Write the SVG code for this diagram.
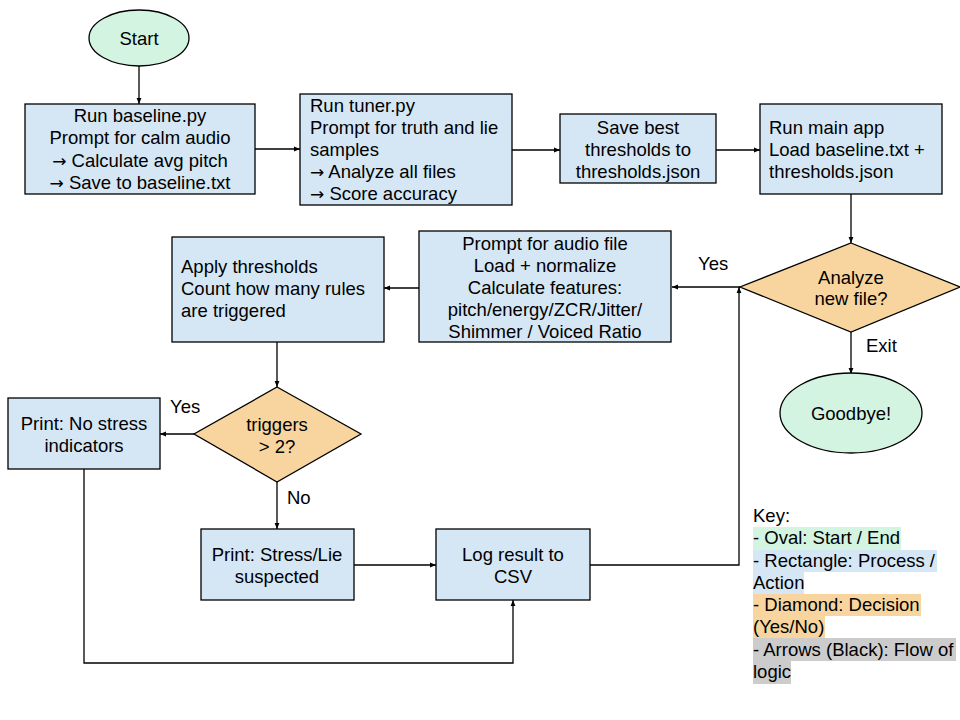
<svg xmlns="http://www.w3.org/2000/svg" width="960" height="720" viewBox="0 0 960 720">
<style>
text{font-family:"Liberation Sans",Arial,sans-serif;font-size:18.5px;fill:#000}
.c{text-anchor:middle}
.ar{font-family:"DejaVu Sans",sans-serif;font-size:17px}
.box{fill:#d5e7f5;stroke:#000;stroke-width:1.3}
.ov{fill:#d4f4e2;stroke:#000;stroke-width:1.3}
.dia{fill:#f8d59e;stroke:#000;stroke-width:1.3}
.ln{fill:none;stroke:#000;stroke-width:1.3}
</style>
<defs>
<marker id="ah" viewBox="0 0 10 10" refX="10" refY="5" markerWidth="6" markerHeight="6" markerUnits="userSpaceOnUse" orient="auto">
<path d="M0,1 L10,5 L0,9 z" fill="#000"/>
</marker>
</defs>
<rect width="960" height="720" fill="#fff"/>
<g id="connectors">
<path class="ln" d="M139,66 V104" marker-end="url(#ah)"/>
<path class="ln" d="M255,149 H300" marker-end="url(#ah)"/>
<path class="ln" d="M512,150 H560" marker-end="url(#ah)"/>
<path class="ln" d="M716,150 H760" marker-end="url(#ah)"/>
<path class="ln" d="M851,194 V243" marker-end="url(#ah)"/>
<path class="ln" d="M851,332 V374" marker-end="url(#ah)"/>
<path class="ln" d="M740,287 H672" marker-end="url(#ah)"/>
<path class="ln" d="M419,288 H384" marker-end="url(#ah)"/>
<path class="ln" d="M277,342 V387" marker-end="url(#ah)"/>
<path class="ln" d="M194,434 H160" marker-end="url(#ah)"/>
<path class="ln" d="M277,482 V529" marker-end="url(#ah)"/>
<path class="ln" d="M354,565 H436" marker-end="url(#ah)"/>
<path class="ln" d="M84,469 V663 H513 V600" marker-end="url(#ah)"/>
<path class="ln" d="M590,565 H739 V287" marker-end="url(#ah)"/>
<text x="698" y="270">Yes</text>
<text x="866" y="352">Exit</text>
<text x="170" y="413">Yes</text>
<text x="287" y="504">No</text>
</g>
<g id="start"><ellipse class="ov" cx="139" cy="38" rx="50" ry="28"/><text class="c" x="139" y="45">Start</text></g>
<g id="baseline"><rect class="box" x="25" y="104" width="230" height="90"/>
<text class="c" x="140" y="122">Run baseline.py</text>
<text class="c" x="140" y="144">Prompt for calm audio</text>
<text class="c" x="140" y="167"><tspan class="ar">→</tspan> Calculate avg pitch</text>
<text class="c" x="140" y="189"><tspan class="ar">→</tspan> Save to baseline.txt</text></g>
<g id="tuner"><rect class="box" x="300" y="94" width="212" height="111"/>
<text x="310" y="112">Run tuner.py</text>
<text x="310" y="134">Prompt for truth and lie</text>
<text x="310" y="156">samples</text>
<text x="310" y="178"><tspan class="ar">→</tspan> Analyze all files</text>
<text x="310" y="200"><tspan class="ar">→</tspan> Score accuracy</text></g>
<g id="save"><rect class="box" x="560" y="114" width="156" height="69"/>
<text class="c" x="638" y="134">Save best</text>
<text class="c" x="638" y="156">thresholds to</text>
<text class="c" x="638" y="178">thresholds.json</text></g>
<g id="mainapp"><rect class="box" x="760" y="104" width="182" height="90"/>
<text x="769" y="134">Run main app</text>
<text x="769" y="156">Load baseline.txt +</text>
<text x="769" y="178">thresholds.json</text></g>
<g id="analyze"><polygon class="dia" points="851,243 960,287 851,332 740,287"/>
<text class="c" x="851" y="284">Analyze</text>
<text class="c" x="851" y="305">new file?</text></g>
<g id="goodbye"><ellipse class="ov" cx="851" cy="413" rx="71" ry="40"/><text class="c" x="851" y="420">Goodbye!</text></g>
<g id="prompt"><rect class="box" x="419" y="231" width="252" height="111"/>
<text class="c" x="545" y="250">Prompt for audio file</text>
<text class="c" x="545" y="272">Load + normalize</text>
<text class="c" x="545" y="294">Calculate features:</text>
<text class="c" x="545" y="316">pitch/energy/ZCR/Jitter/</text>
<text class="c" x="545" y="338">Shimmer / Voiced Ratio</text></g>
<g id="apply"><rect class="box" x="172" y="237" width="212" height="105"/>
<text x="181" y="273">Apply thresholds</text>
<text x="181" y="295">Count how many rules</text>
<text x="181" y="317">are triggered</text></g>
<g id="triggers"><polygon class="dia" points="277,387 361,434 277,482 194,434"/>
<text class="c" x="277" y="431">triggers</text>
<text class="c" x="277" y="453">&gt; 2?</text></g>
<g id="nostress"><rect class="box" x="8" y="398" width="152" height="71"/>
<text class="c" x="84" y="430">Print: No stress</text>
<text class="c" x="84" y="452">indicators</text></g>
<g id="stress"><rect class="box" x="201" y="529" width="153" height="71"/>
<text class="c" x="277" y="561">Print: Stress/Lie</text>
<text class="c" x="277" y="583">suspected</text></g>
<g id="log"><rect class="box" x="436" y="529" width="154" height="71"/>
<text class="c" x="513" y="561">Log result to</text>
<text class="c" x="513" y="583">CSV</text></g>
<g id="legend">
<rect x="753" y="527" width="148" height="23" fill="#d4f4e2"/>
<rect x="753" y="550" width="184" height="22" fill="#d5e7f5"/>
<rect x="753" y="572" width="51" height="22" fill="#d5e7f5"/>
<rect x="753" y="594" width="168" height="22" fill="#f8d59e"/>
<rect x="753" y="616" width="72" height="22" fill="#f8d59e"/>
<rect x="753" y="638" width="203" height="23" fill="#cccccc"/>
<rect x="753" y="661" width="38" height="23" fill="#cccccc"/>
<text x="753" y="522">Key:</text>
<text x="753" y="544">- Oval: Start / End</text>
<text x="753" y="567">- Rectangle: Process /</text>
<text x="753" y="589">Action</text>
<text x="753" y="611">- Diamond: Decision</text>
<text x="753" y="633">(Yes/No)</text>
<text x="753" y="656">- Arrows (Black): Flow of</text>
<text x="753" y="678">logic</text>
</g>
</svg>
